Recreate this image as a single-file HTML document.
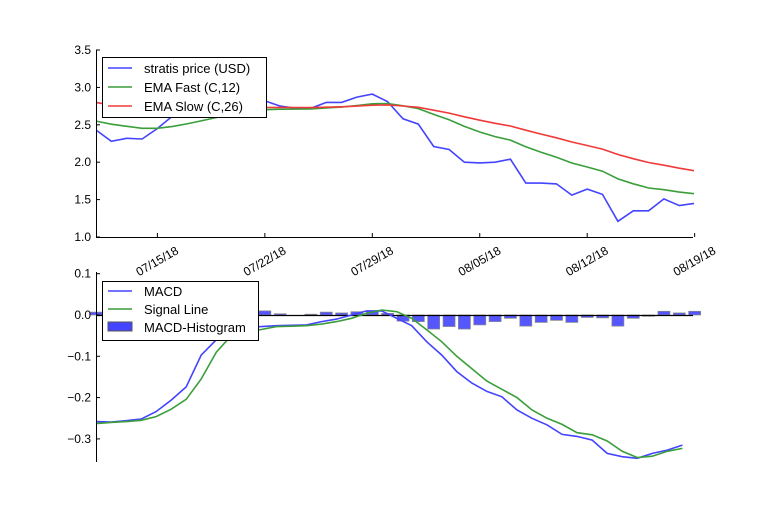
<!DOCTYPE html>
<html><head><meta charset="utf-8"><style>
body{margin:0;background:#fff;width:768px;height:512px;overflow:hidden}
text{font-family:"Liberation Sans",sans-serif;font-size:12px;fill:#000}
</style></head><body>
<svg id="s" width="768" height="512" xmlns="http://www.w3.org/2000/svg"></svg>
<script>
var P=[2.43,2.28,2.32,2.31,2.45,2.62,2.72,2.8,2.85,2.87,2.87,2.82,2.75,2.72,2.72,2.80,2.80,2.87,2.91,2.81,2.58,2.51,2.21,2.17,2.00,1.99,2.00,2.04,1.72,1.72,1.71,1.56,1.64,1.57,1.21,1.35,1.35,1.51,1.42,1.45];
var F=[],S=[];var f=2.55,s=2.80;
for(var i=0;i<40;i++){if(i>0){f=f+(P[i]-f)*2/13;s=s+(P[i]-s)*2/27;}F.push(f);S.push(s);}
var M=[-0.258,-0.259,-0.256,-0.252,-0.234,-0.206,-0.174,-0.097,-0.06,-0.036,-0.030,-0.028,-0.026,-0.025,-0.024,-0.016,-0.010,0.0,0.010,0.010,-0.008,-0.026,-0.065,-0.097,-0.137,-0.165,-0.185,-0.198,-0.230,-0.250,-0.266,-0.289,-0.294,-0.303,-0.335,-0.343,-0.347,-0.335,-0.327,-0.315];
var G=[-0.263,-0.26,-0.258,-0.255,-0.246,-0.228,-0.204,-0.155,-0.09,-0.05,-0.04,-0.035,-0.028,-0.027,-0.026,-0.022,-0.016,-0.008,0.004,0.012,0.008,-0.008,-0.036,-0.065,-0.1,-0.13,-0.16,-0.18,-0.2,-0.23,-0.25,-0.265,-0.285,-0.29,-0.305,-0.33,-0.345,-0.342,-0.33,-0.323];
var H=[0.007,0.002,0.002,0.003,0.004,0.005,0.006,0.006,0.006,0.005,0.004,0.01,0.003,0,0.002,0.007,0.005,0.008,0.01,0.004,-0.015,-0.016,-0.034,-0.028,-0.034,-0.024,-0.016,-0.008,-0.027,-0.018,-0.013,-0.018,-0.006,-0.007,-0.027,-0.008,-0.003,0.009,0.005,0.009];
var X=function(i){return 96+i*15.35};
var Y1=function(v){return 50+(3.5-v)*74.8};
var Y2=function(v){return 315-v*413};
var o='';
function line(a,Y,c,n,sc){var d='';for(var i=0;i<n;i++)d+=(i?'L':'M')+(96+i*15.35*(sc||1)).toFixed(1)+' '+Y(a[i]).toFixed(1);o+='<path d="'+d+'" fill="none" stroke="'+c+'" stroke-width="1.6"/>';}
o+='<clipPath id="c1"><rect x="96" y="50" width="598" height="187"/></clipPath>';
o+='<g clip-path="url(#c1)">';line(P,Y1,'#4444ff',40);line(F,Y1,'#3a9e3a',40);line(S,Y1,'#f03a3a',40);o+='</g>';
o+='<path d="M96.5 50V237.5H693" stroke="#000" fill="none"/>';
[3.5,3.0,2.5,2.0,1.5,1.0].forEach(function(v){var y=Y1(v);o+='<path d="M96 '+y+'h4" stroke="#000"/><text x="91" y="'+(y+4)+'" text-anchor="end">'+v.toFixed(1)+'</text>';});
var L=['07/15/18','07/22/18','07/29/18','08/05/18','08/12/18','08/19/18'];
L.forEach(function(t,k){var x=X(4+7*k);o+='<path d="M'+x+' 237v-4" stroke="#000"/><text transform="translate('+(x+22)+',253) rotate(-30)" text-anchor="end">'+t+'</text>';});
o+='<rect x="102.5" y="57.5" width="164" height="60" fill="#fff" stroke="#000"/>';
[['#4444ff','stratis price (USD)'],['#3a9e3a','EMA Fast (C,12)'],['#f03a3a','EMA Slow (C,26)']].forEach(function(a,k){var y=68+k*19;o+='<path d="M108 '+y+'h24" stroke="'+a[0]+'" stroke-width="1.6"/><text x="144" y="'+(y+5)+'" style="font-size:13px">'+a[1]+'</text>';});
for(var i=0;i<40;i++){var h=H[i];if(!h)continue;var y=Y2(Math.max(h,0)),hh=Math.abs(h)*413;o+='<rect x="'+(X(i)-6)+'" y="'+y+'" width="12" height="'+hh+'" fill="#4444ff" fill-opacity="0.9" stroke="#888" stroke-width="0.7"/>';}
o+='<path d="M96 315.5H693" stroke="#000" stroke-width="1.2"/>';
line(M,Y2,'#4444ff',40,38.2/39);line(G,Y2,'#3a9e3a',40,38.2/39);
o+='<path d="M96.5 272V462" stroke="#000"/>';
[0.1,0.0,-0.1,-0.2,-0.3].forEach(function(v){var y=Y2(v);o+='<path d="M96 '+y+'h4" stroke="#000"/><text x="91" y="'+(y+4)+'" text-anchor="end">'+(v<0?'\u2212'+(-v).toFixed(1):v.toFixed(1))+'</text>';});
o+='<rect x="102.5" y="281.5" width="156" height="59" fill="#fff" stroke="#000"/>';
o+='<path d="M108 291h24" stroke="#4444ff" stroke-width="1.6"/><text x="144" y="296" style="font-size:13px">MACD</text>';
o+='<path d="M108 309h24" stroke="#3a9e3a" stroke-width="1.6"/><text x="144" y="314" style="font-size:13px">Signal Line</text>';
o+='<rect x="108" y="322" width="24" height="9" fill="#4444ff" stroke="#555"/><text x="144" y="332" style="font-size:13px">MACD-Histogram</text>';
document.getElementById('s').innerHTML=o;
</script>
</body></html>
